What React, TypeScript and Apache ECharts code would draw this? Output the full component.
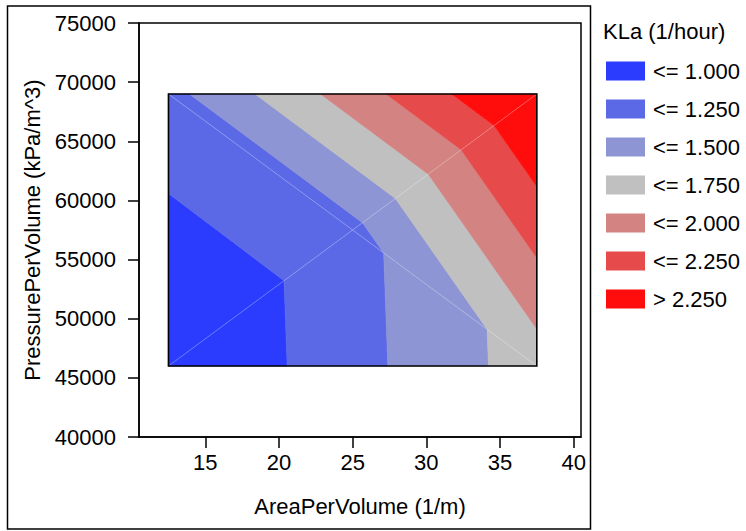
import React, { useEffect, useRef } from "react";
import * as echarts from "echarts";

// Grid points of the KLa surface (corners + centre), triangulated
const pointX = [12.5, 37.5, 37.5, 12.5, 25];
const pointY = [46000, 46000, 69000, 69000, 57500];
const pointKLa = [0.705, 1.62, 2.575, 1.17, 1.175];
const triangles = [
  [0, 1, 4],
  [1, 2, 4],
  [2, 3, 4],
  [3, 0, 4],
];

const levels = [1.0, 1.25, 1.5, 1.75, 2.0, 2.25];
const bandLabels = ["<= 1.000", "<= 1.250", "<= 1.500", "<= 1.750", "<= 2.000", "<= 2.250", "> 2.250"];
const bandColors = ["#2B3CFF", "#5C69E6", "#8D95D4", "#C0C0C0", "#D48383", "#E64A4A", "#FF0D0D"];

const xTicks = [15, 20, 25, 30, 35, 40];
const yMin = 40000;
const yMax = 75000;
const yStep = 5000;

const FONT = "'Liberation Sans', Arial, sans-serif";
const FS = 22;

type P = { x: number; y: number; v: number };

function clip(poly: P[], level: number, keepAbove: boolean): P[] {
  const out: P[] = [];
  const inside = (p: P) => (keepAbove ? p.v >= level : p.v <= level);
  for (let i = 0; i < poly.length; i++) {
    const a = poly[i];
    const b = poly[(i + 1) % poly.length];
    const ia = inside(a);
    const ib = inside(b);
    if (ia) out.push(a);
    if (ia !== ib) {
      const t = (level - a.v) / (b.v - a.v);
      out.push({ x: a.x + t * (b.x - a.x), y: a.y + t * (b.y - a.y), v: level });
    }
  }
  return out;
}

function bandPolygons(bandIndex: number): P[][] {
  const lo = bandIndex === 0 ? -Infinity : levels[bandIndex - 1];
  const hi = bandIndex === levels.length ? Infinity : levels[bandIndex];
  const res: P[][] = [];
  for (const tri of triangles) {
    let poly: P[] = tri.map((k) => ({ x: pointX[k], y: pointY[k], v: pointKLa[k] }));
    if (lo !== -Infinity) poly = clip(poly, lo, true);
    if (poly.length >= 3 && hi !== Infinity) poly = clip(poly, hi, false);
    if (poly.length >= 3) res.push(poly);
  }
  return res;
}

export default function App() {
  const ref = useRef<HTMLDivElement>(null);

  useEffect(() => {
    if (!ref.current) return;
    const chart = echarts.init(ref.current, undefined, { renderer: "svg" });

    const bandSeries = bandLabels.map((name, b) => {
      const polys = bandPolygons(b);
      const color = bandColors[b];
      return {
        type: "custom",
        name,
        itemStyle: { color },
        data: polys.map((poly) => [
          poly.reduce((s, p) => s + p.x, 0) / poly.length,
          poly.reduce((s, p) => s + p.y, 0) / poly.length,
        ]),
        renderItem: (params: any, api: any) => {
          const poly = polys[params.dataIndex];
          const pts = poly.map((p) => api.coord([p.x, p.y]));
          return {
            type: "polygon",
            shape: { points: pts },
            style: { fill: color, stroke: color, lineWidth: 0.6 },
          };
        },
      };
    });

    const x0 = Math.min(...pointX);
    const x1 = Math.max(...pointX);
    const y0 = Math.min(...pointY);
    const y1 = Math.max(...pointY);
    const cIdx = 4;

    const overlay = {
      type: "custom",
      name: "outline",
      data: [[pointX[cIdx], pointY[cIdx]]],
      z: 5,
      renderItem: (_params: any, api: any) => {
        const c = api.coord([pointX[cIdx], pointY[cIdx]]);
        const bl = api.coord([x0, y0]);
        const tr = api.coord([x1, y1]);
        const diag = [0, 1, 2, 3].map((k) => {
          const p = api.coord([pointX[k], pointY[k]]);
          return {
            type: "line",
            shape: { x1: p[0], y1: p[1], x2: c[0], y2: c[1] },
            style: { stroke: "rgba(255,255,255,0.35)", lineWidth: 0.8 },
          };
        });
        return {
          type: "group",
          children: [
            ...diag,
            {
              type: "rect",
              shape: { x: bl[0], y: tr[1], width: tr[0] - bl[0], height: bl[1] - tr[1] },
              style: { fill: "none", stroke: "#000", lineWidth: 1.6 },
            },
          ],
        };
      },
    };

    const option: any = {
      animation: false,
      color: bandColors,
      textStyle: { fontFamily: FONT },
      grid: {
        left: 139,
        top: 23,
        width: 442,
        height: 414,
        show: true,
        borderColor: "#000",
        borderWidth: 1.5,
        backgroundColor: "transparent",
      },
      xAxis: {
        type: "value",
        min: 10.5,
        max: 40.5,
        name: "AreaPerVolume (1/m)",
        nameLocation: "middle",
        nameGap: 58,
        nameTextStyle: { fontSize: FS, color: "#000", fontFamily: FONT },
        axisLine: { show: true, lineStyle: { color: "#000", width: 1.5 } },
        axisTick: { show: true, length: 11, inside: false, customValues: xTicks, lineStyle: { color: "#000", width: 1.5 } },
        axisLabel: { customValues: xTicks, fontSize: FS, color: "#000", fontFamily: FONT, margin: 14 },
        splitLine: { show: false },
      },
      yAxis: {
        type: "value",
        min: yMin,
        max: yMax,
        interval: yStep,
        name: "PressurePerVolume (kPa/m^3)",
        nameLocation: "middle",
        nameGap: 94,
        nameTextStyle: { fontSize: FS, color: "#000", fontFamily: FONT },
        axisLine: { show: true, lineStyle: { color: "#000", width: 1.5 } },
        axisTick: { show: true, length: 11, inside: false, lineStyle: { color: "#000", width: 1.5 } },
        axisLabel: {
          fontSize: FS,
          color: "#000",
          fontFamily: FONT,
          margin: 23,
          formatter: (v: number) => String(v),
        },
        splitLine: { show: false },
      },
      legend: {
        data: bandLabels,
        orient: "vertical",
        left: 601,
        top: 55,
        itemWidth: 39,
        itemHeight: 19,
        itemGap: 16,
        icon: "rect",
        selectedMode: false,
        textStyle: { fontSize: FS, color: "#000", fontFamily: FONT, padding: [0, 0, 0, 3] },
      },
      graphic: [
        {
          type: "text",
          left: 603,
          top: 20,
          style: { text: "KLa (1/hour)", fontSize: FS, fill: "#000", fontFamily: FONT },
        },
        {
          type: "rect",
          shape: { x: 7.5, y: 6, width: 583, height: 523 },
          style: { fill: "none", stroke: "#000", lineWidth: 1.5 },
        },
      ],
      series: [...bandSeries, overlay],
    };

    chart.setOption(option);
    return () => chart.dispose();
  }, []);

  return (
    <div
      ref={ref}
      style={{ position: "fixed", left: 0, top: 0, width: 746, height: 531, background: "#fff" }}
    />
  );
}
